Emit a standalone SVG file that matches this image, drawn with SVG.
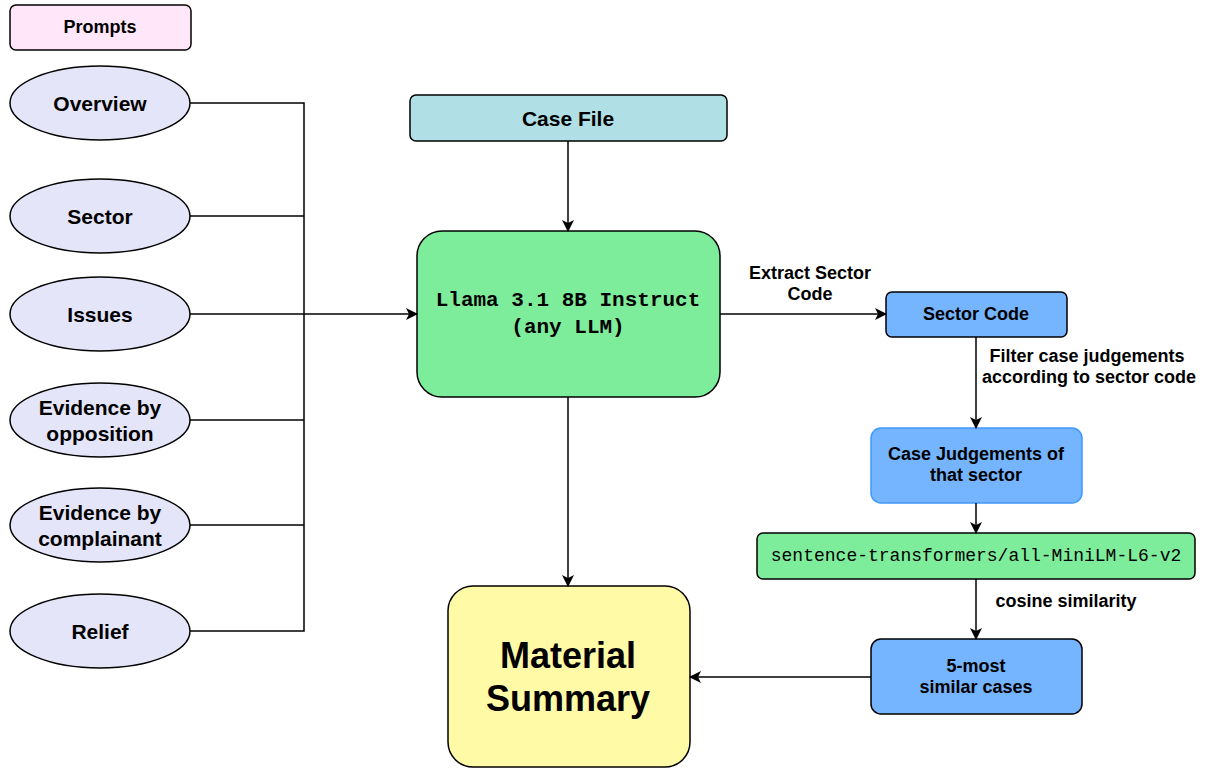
<svg xmlns="http://www.w3.org/2000/svg" width="1207" height="770" viewBox="0 0 1207 770">
<style>
text{font-family:"Liberation Sans",Arial,sans-serif;font-weight:bold;fill:#000;text-anchor:middle;dominant-baseline:central}
.mono{font-family:"Liberation Mono","Courier New",monospace}
.ell{fill:#e5e5f9;stroke:#000;stroke-width:1.5}
.ln{fill:none;stroke:#000;stroke-width:1.5}
.blue{fill:#75b4ff;stroke:#000;stroke-width:1.5}
.green{fill:#7eed9b;stroke:#000;stroke-width:1.5}
.e{font-size:21px}
.s{font-size:18px}
</style>
<defs>
<marker id="ar" viewBox="0 0 12 12" refX="11" refY="6" markerWidth="12" markerHeight="12" markerUnits="userSpaceOnUse" orient="auto">
<path d="M0,0 L12,6 L0,12 L3,6 Z" fill="#000"/>
</marker>
</defs>
<g id="prompts"><rect x="10" y="5" width="181" height="45" rx="6" fill="#ffe6f8" stroke="#000" stroke-width="1.5"/><text x="100" y="27" class="s">Prompts</text></g>
<g id="overview"><ellipse cx="100" cy="103" rx="90" ry="37" class="ell"/><text x="100" y="103" class="e">Overview</text></g>
<g id="sector"><ellipse cx="100" cy="216" rx="90" ry="37" class="ell"/><text x="100" y="216" class="e">Sector</text></g>
<g id="issues"><ellipse cx="100" cy="314" rx="90" ry="37" class="ell"/><text x="100" y="314" class="e">Issues</text></g>
<g id="evidence-opposition"><ellipse cx="100" cy="420" rx="90" ry="37" class="ell"/><text x="100" y="407" class="e">Evidence by</text><text x="100" y="433" class="e">opposition</text></g>
<g id="evidence-complainant"><ellipse cx="100" cy="525" rx="90" ry="37" class="ell"/><text x="100" y="512" class="e">Evidence by</text><text x="100" y="538" class="e">complainant</text></g>
<g id="relief"><ellipse cx="100" cy="631" rx="90" ry="37" class="ell"/><text x="100" y="631" class="e">Relief</text></g>
<g id="case-file"><rect x="410" y="95" width="317" height="46" rx="6" fill="#b0e0e6" stroke="#000" stroke-width="1.5"/><text x="568" y="118" class="e">Case File</text></g>
<g id="llama"><rect x="417" y="231" width="303" height="166" rx="25" class="green"/><text x="568" y="300" class="mono" style="font-size:21px">Llama 3.1 8B Instruct</text><text x="568" y="327" class="mono" style="font-size:21px">(any LLM)</text></g>
<g id="material-summary"><rect x="448" y="586" width="242" height="181" rx="25" fill="#fffaa5" stroke="#000" stroke-width="1.5"/><text x="568" y="655" style="font-size:36px">Material</text><text x="568" y="698" style="font-size:36px">Summary</text></g>
<g id="sector-code"><rect x="886" y="292" width="181" height="45" rx="6" class="blue"/><text x="976" y="314" class="s">Sector Code</text></g>
<g id="case-judgements"><rect x="871" y="428" width="211" height="75" rx="10" fill="#75b4ff" stroke="#3f99ff" stroke-width="1.5"/><text x="976" y="454" class="s">Case Judgements of</text><text x="976" y="475" class="s">that sector</text></g>
<g id="sentence-transformers"><rect x="757" y="533" width="438" height="46" rx="6" class="green"/><text x="976" y="556" class="mono" style="font-size:18px;font-weight:normal">sentence-transformers/all-MiniLM-L6-v2</text></g>
<g id="similar-cases"><rect x="871" y="639" width="211" height="75" rx="10" class="blue"/><text x="976" y="666" class="s">5-most</text><text x="976" y="687" class="s">similar cases</text></g>
<g id="connectors">
<path class="ln" d="M190,103 H304 V631 H190"/>
<path class="ln" d="M190,216 H304"/>
<path class="ln" d="M190,420 H304"/>
<path class="ln" d="M190,525 H304"/>
<path class="ln" d="M190,314 H304"/>
<path class="ln" d="M304,314 H417" stroke-width="2" marker-end="url(#ar)"/>
<path class="ln" d="M568,141 V231" marker-end="url(#ar)"/>
<path class="ln" d="M568,397 V586" marker-end="url(#ar)"/>
<path class="ln" d="M720,314 H886" marker-end="url(#ar)"/>
<path class="ln" d="M976,337 V428" marker-end="url(#ar)"/>
<path class="ln" d="M976,503 V533" marker-end="url(#ar)"/>
<path class="ln" d="M976,579 V639" marker-end="url(#ar)"/>
<path class="ln" d="M871,677 H690" marker-end="url(#ar)"/>
<text x="810" y="273" class="s">Extract Sector</text>
<text x="810" y="294" class="s">Code</text>
<text x="1087" y="356" class="s">Filter case judgements</text>
<text x="1089" y="377" class="s">according to sector code</text>
<text x="1066" y="601" class="s">cosine similarity</text>
</g>
</svg>
